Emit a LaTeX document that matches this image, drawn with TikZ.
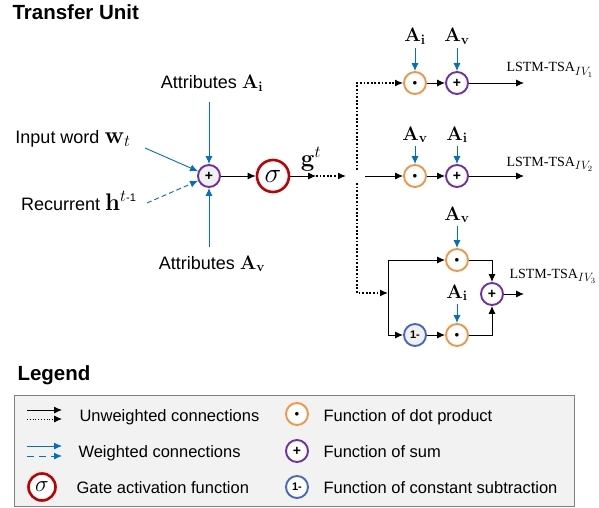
\RequirePackage{fix-cm}
\documentclass[tikz,border=0pt]{standalone}
\usepackage{amsmath}
\usepackage[no-math]{fontspec}
\setmainfont{Liberation Sans}
\newfontfamily\tsafont{Liberation Serif}
\usetikzlibrary{arrows.meta}
\definecolor{dotorange}{RGB}{240,150,70}
\definecolor{sumpurple}{RGB}{112,48,160}
\definecolor{gatered}{RGB}{192,0,0}
\definecolor{subblue}{RGB}{68,104,196}
\definecolor{wblue}{RGB}{0,112,192}
\newcommand{\tsasub}[1]{\raisebox{-3.5pt}{\fontsize{12}{12}\selectfont$IV_{#1}$}}
\newcommand{\bigvec}[1]{{\fontsize{24}{24}\selectfont$#1$}}
\newcommand{\attrvec}[1]{{\fontsize{19.5}{20}\selectfont$\mathbf{A}_{\mathbf{#1}}$}}
\begin{document}
\begin{tikzpicture}[x=1pt,y=-1pt,
		>={Latex[length=8pt,width=7pt]},
		fn/.style={circle,draw,line width=1.9pt,minimum size=22pt,inner sep=0pt},
		dotfn/.style={fn,draw=dotorange,fill=white},
		sumfn/.style={fn,draw=sumpurple,fill=gray!12,font=\fontsize{14}{14}\selectfont\bfseries},
		subfn/.style={fn,draw=subblue,fill=gray!12,font=\fontsize{11}{11}\selectfont\bfseries},
		gatefn/.style={circle,draw=gatered,line width=2.6pt,minimum size=32pt,inner sep=0pt,fill=white},
		lbl/.style={font=\fontsize{18}{20}\selectfont},
		attr/.style={font=\fontsize{18}{20}\selectfont,anchor=base},
		tsa/.style={font=\fontsize{14}{16}\selectfont\tsafont,anchor=base west},
		leg/.style={font=\fontsize{16.5}{18}\selectfont,anchor=base west},
		wline/.style={->,draw=wblue,line width=0.9pt},
		uline/.style={->,line width=0.9pt},
		dline/.style={->,line width=1.2pt,dash pattern=on 1.8pt off 1.8pt}]
		\useasboundingbox (0,0) rectangle (599,508);

		% Transfer unit
		\node[font=\fontsize{20.5}{22}\selectfont\bfseries,anchor=base west] (title) at (9,20) {Transfer Unit};
		\node[sumfn] (sum) at (209,176) {+};
		\node[gatefn] (gate) at (273,176) {\fontsize{28}{28}\selectfont$\sigma$};
		\node[attr] (attrI) at (212,89) {Attributes \attrvec{i}};
		\node[attr] (attrV) at (212,269) {Attributes \attrvec{v}};
		\node[lbl,anchor=base east] (word) at (134,143) {Input word \bigvec{\mathbf{w}_t}};
		\node[lbl,anchor=base east] (rec) at (140,210) {Recurrent \bigvec{\mathbf{h}^{t\text{\fontsize{11}{11}\selectfont -1}}}};
		\node[lbl,anchor=base] (glab) at (311,166) {\bigvec{\mathbf{g}^t}};

		% Pontos
		\coordinate (iTop) at (209,102);
		\coordinate (vBot) at (209,247);
		\coordinate (wStart) at (145,148);
		\coordinate (hStart) at (147,203);
		\coordinate (gEnd) at (316,176);
		\coordinate (gDot) at (346,176);
		\coordinate (jUp) at (357,170);
		\coordinate (jDown) at (357,183);
		\coordinate (jRight) at (365,176);

		% Entradas
		\draw[wline] (iTop) -- (sum);
		\draw[wline] (vBot) -- (sum);
		\draw[wline] (wStart) -- (sum);
		\draw[wline,dash pattern=on 5pt off 3pt] (hStart) -- (sum);
		\draw[uline] (sum) -- (gate);
		\draw[uline] (gate) -- (gEnd);
		\draw[dline] (gEnd) -- (gDot);

		% IV1
		\node[dotfn] (dotA) at (415,83) {\fontsize{9}{9}\selectfont$\bullet$};
		\node[sumfn,fill=white] (sumA) at (457,83) {+};
		\node[attr] (aiA) at (415,42) {\attrvec{i}};
		\node[attr] (avA) at (457,42) {\attrvec{v}};
		\node[tsa] (tsaA) at (503,72) {LSTM-TSA\tsasub{1}};
		\coordinate (outA) at (524,83);
		\draw[dline] (jUp) |- (dotA);
		\draw[wline] (aiA) -- (dotA);
		\draw[wline] (avA) -- (sumA);
		\draw[uline] (dotA) -- (sumA);
		\draw[uline] (sumA) -- (outA);

		% IV2
		\node[dotfn] (dotB) at (415,176) {\fontsize{9}{9}\selectfont$\bullet$};
		\node[sumfn,fill=white] (sumB) at (457,176) {+};
		\node[attr] (avB) at (415,140) {\attrvec{v}};
		\node[attr] (aiB) at (457,140) {\attrvec{i}};
		\node[tsa] (tsaB) at (503,166) {LSTM-TSA\tsasub{2}};
		\coordinate (outB) at (524,176);
		\draw[uline] (jRight) -- (dotB);
		\draw[wline] (avB) -- (dotB);
		\draw[wline] (aiB) -- (sumB);
		\draw[uline] (dotB) -- (sumB);
		\draw[uline] (sumB) -- (outB);

		% IV3
		\node[dotfn] (dotC) at (457,260) {\fontsize{9}{9}\selectfont$\bullet$};
		\node[dotfn] (dotD) at (457,335) {\fontsize{9}{9}\selectfont$\bullet$};
		\node[subfn] (subC) at (415,335) {1-};
		\node[sumfn,fill=white] (sumC) at (492,294) {+};
		\node[attr] (avC) at (457,220) {\attrvec{v}};
		\node[attr] (aiC) at (457,298) {\attrvec{i}};
		\node[tsa] (tsaC) at (506,278) {LSTM-TSA\tsasub{3}};
		\coordinate (split) at (388,293);
		\coordinate (splitTop) at (388,260);
		\coordinate (splitBot) at (388,335);
		\coordinate (outC) at (524,294);
		\draw[dline] (jDown) |- (split);
		\draw[line width=0.9pt] (splitTop) -- (splitBot);
		\draw[uline] (splitTop) -- (dotC);
		\draw[uline] (splitBot) -- (subC);
		\draw[uline] (subC) -- (dotD);
		\draw[wline] (avC) -- (dotC);
		\draw[wline] (aiC) -- (dotD);
		\draw[uline] (dotC) -| (sumC);
		\draw[uline] (dotD) -| (sumC);
		\draw[uline] (sumC) -- (outC);

		% Legenda
		\node[font=\fontsize{20.5}{22}\selectfont\bfseries,anchor=base west] (legtitle) at (14,380) {Legend};
		\draw[draw=gray,fill=gray!10,line width=1pt] (14,395) rectangle (574,506);
		\coordinate (uaS) at (27,410); \coordinate (uaE) at (62,410);
		\coordinate (udS) at (27,419); \coordinate (udE) at (62,419);
		\coordinate (waS) at (27,446); \coordinate (waE) at (62,446);
		\coordinate (wdS) at (27,456); \coordinate (wdE) at (62,456);
		\draw[uline] (uaS) -- (uaE);
		\draw[->,line width=0.8pt,dotted] (udS) -- (udE);
		\draw[wline] (waS) -- (waE);
		\draw[wline,dash pattern=on 7pt off 5pt] (wdS) -- (wdE);
		\node[leg] (legU) at (76,421) {Unweighted connections};
		\node[leg] (legW) at (75,457) {Weighted connections};
		\node[gatefn,minimum size=27pt] (legG) at (42,487) {\fontsize{23}{23}\selectfont$\sigma$};
		\node[leg] (legGt) at (73,493) {Gate activation function};
		\node[dotfn] (legD) at (297,414) {\fontsize{9}{9}\selectfont$\bullet$};
		\node[leg] (legDt) at (320,421) {Function of dot product};
		\node[sumfn,fill=white] (legS) at (297,451) {+};
		\node[leg] (legSt) at (320,457) {Function of sum};
		\node[subfn,fill=white] (legM) at (297,487) {1-};
		\node[leg] (legMt) at (320,493) {Function of constant subtraction};
\end{tikzpicture}
\end{document}
